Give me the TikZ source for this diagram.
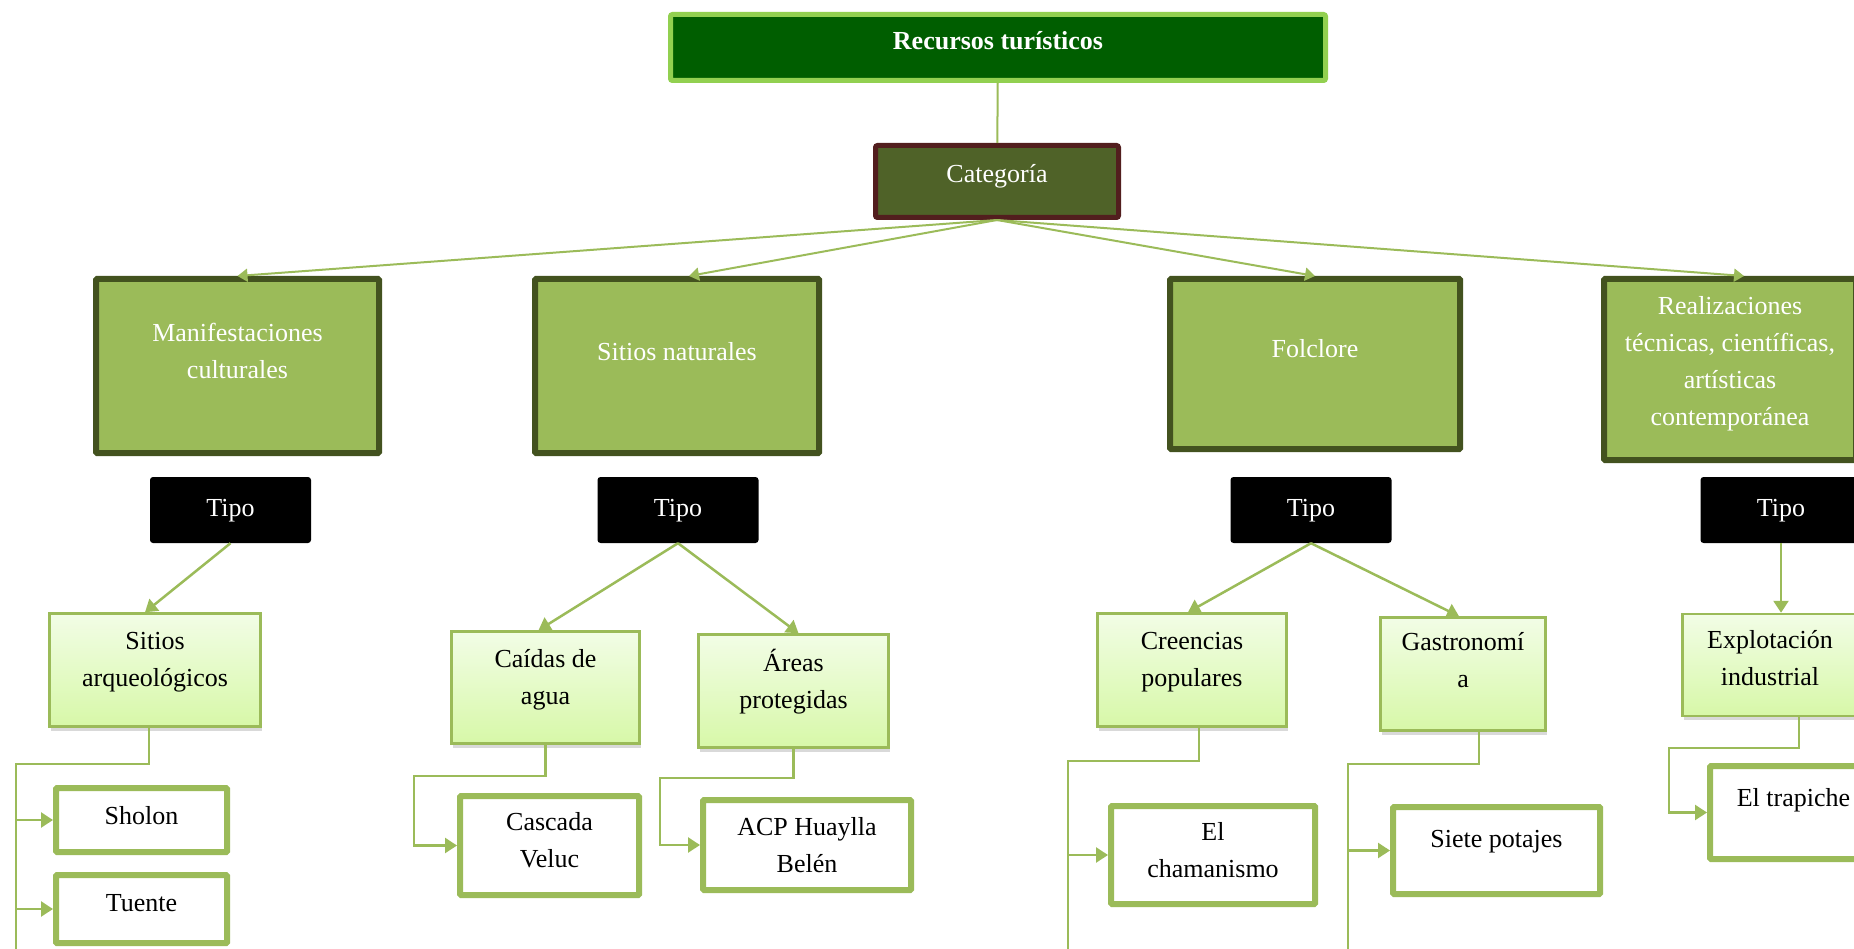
\documentclass[tikz,border=0pt]{standalone}
\usepackage{fontspec}
\setmainfont{Liberation Serif}
\usetikzlibrary{arrows.meta,shadows}

\definecolor{titlefill}{HTML}{005E00}
\definecolor{titleedge}{HTML}{92D050}
\definecolor{catgfill}{HTML}{4F6228}
\definecolor{catgedge}{HTML}{521E1E}
\definecolor{grassfill}{HTML}{9BBB59}
\definecolor{grassedge}{HTML}{43521F}
\definecolor{paletop}{HTML}{F2FDE6}
\definecolor{palebottom}{HTML}{D7F8A8}

% text of a box, lifted a bit above the middle
\newcommand{\boxtext}[2][3pt]{\raisebox{#1}[0pt][0pt]{\begin{tabular}{@{}c@{}}#2\end{tabular}}}

\begin{document}
\begin{tikzpicture}[x=1pt,y=-1pt,
    every node/.style={font=\fontsize{26}{37}\selectfont},
    titlebox/.style={draw=titleedge,fill=titlefill,line width=5pt,text=white,rounded corners=2pt,
        font=\fontsize{26}{37}\selectfont\bfseries},
    catgbox/.style={draw=catgedge,fill=catgfill,line width=5pt,text=white,rounded corners=2pt},
    mainbox/.style={draw=grassedge,fill=grassfill,line width=6pt,text=white,rounded corners=1pt},
    tipobox/.style={fill=black,text=white,rounded corners=3pt,minimum width=161pt,minimum height=66pt},
    typebox/.style={draw=grassfill,line width=2.5pt,top color=paletop,bottom color=palebottom,
        drop shadow={shadow xshift=1pt,shadow yshift=-4pt,opacity=0.3}},
    leafbox/.style={draw=grassfill,fill=white,line width=6pt,rounded corners=1pt},
    link/.style={draw=grassfill,line width=2.5pt},
    fan/.style={draw=grassfill,line width=2pt,-{Triangle[length=10pt,width=13pt]}},
    arrow/.style={link,-{Triangle[length=12pt,width=15pt]}}]
    \useasboundingbox (0,0) rectangle (1854,949);
    \clip (0,0) rectangle (1854,949);

    % top
    \node[titlebox,minimum width=655pt,minimum height=66pt] (recursos) at (998,47.5) {\boxtext[-1pt]{Recursos turísticos}};
    \node[catgbox,minimum width=243pt,minimum height=72pt] (categoria) at (997,181.5) {\boxtext[0pt]{Categoría}};

    % categories
    \node[mainbox,minimum width=283pt,minimum height=174pt] (manif) at (237.5,366) {\boxtext[7pt]{Manifestaciones\\culturales}};
    \node[mainbox,minimum width=284pt,minimum height=174pt] (naturales) at (677,366) {\boxtext[7pt]{Sitios naturales}};
    \node[mainbox,minimum width=290pt,minimum height=170pt] (folclore) at (1315,364) {\boxtext[8pt]{Folclore}};
    \node[mainbox,minimum width=252pt,minimum height=181pt] (realiz) at (1730,369.5) {\boxtext[1pt]{Realizaciones\\técnicas, científicas,\\artísticas\\contemporánea}};

    \foreach \n/\x in {tipoA/230.5,tipoB/678,tipoC/1311,tipoD/1781}
        \node[tipobox] (\n) at (\x,510) {\boxtext[-5pt]{Tipo}};

    % types
    \node[typebox,minimum width=211pt,minimum height=113pt] (arqueo) at (155,670) {\boxtext{Sitios\\arqueológicos}};
    \node[typebox,minimum width=188pt,minimum height=112pt] (caidas) at (545.5,687.5) {\boxtext{Caídas de\\agua}};
    \node[typebox,minimum width=190pt,minimum height=113pt] (areas) at (793.5,691) {\boxtext[2pt]{Áreas\\protegidas}};
    \node[typebox,minimum width=189pt,minimum height=113pt] (creencias) at (1192,670) {\boxtext{Creencias\\populares}};
    \node[typebox,minimum width=165pt,minimum height=113pt] (gastro) at (1463,674) {\boxtext[6pt]{Gastronomí\\a}};
    \node[typebox,minimum width=175pt,minimum height=102pt] (explot) at (1770,665) {\boxtext[-1pt]{Explotación\\industrial}};

    % resources
    \node[leafbox,minimum width=171pt,minimum height=64pt] (sholon) at (141.5,820) {\boxtext[-3pt]{Sholon}};
    \node[leafbox,minimum width=171pt,minimum height=68pt] (tuente) at (141.5,909) {\boxtext[-1pt]{Tuente}};
    \node[leafbox,minimum width=179pt,minimum height=99pt] (cascada) at (549.5,845.5) {\boxtext[-2pt]{Cascada\\Veluc}};
    \node[leafbox,minimum width=208pt,minimum height=90pt] (acp) at (807,845) {\boxtext[-8pt]{ACP Huaylla\\Belén}};
    \node[leafbox,minimum width=204pt,minimum height=98pt] (chaman) at (1213,855) {\boxtext[-3pt]{El\\chamanismo}};
    \node[leafbox,minimum width=207pt,minimum height=87pt] (siete) at (1496.5,850.5) {\boxtext[4pt]{Siete potajes}};
    \node[leafbox,minimum width=167pt,minimum height=93pt] (trapiche) at (1793.5,812.5) {\boxtext[7pt]{El trapiche}};

    % connectors
    \draw[link,line width=2pt] (recursos) -- (categoria);
    \draw[fan] (categoria.south) -- (manif.north);
    \draw[fan] (categoria.south) -- ([xshift=12pt]naturales.north);
    \draw[fan] (categoria.south) -- (folclore.north);
    \draw[fan] (categoria.south) -- ([xshift=14pt]realiz.north);

    \draw[arrow] (tipoA.south) -- ([xshift=-10pt]arqueo.north);
    \draw[arrow] (tipoB.south) -- ([xshift=-7pt]caidas.north);
    \draw[arrow] (tipoB.south) -- ([xshift=5pt]areas.north);
    \draw[arrow] (tipoC.south) -- ([xshift=-4pt]creencias.north);
    \draw[arrow] (tipoC.south) -- ([xshift=-4pt]gastro.north);
    \draw[arrow] (tipoD.south) -- (tipoD.south |- explot.north);

    \coordinate (arqturn) at (16,764);
    \coordinate (caidturn) at (414,776);
    \coordinate (areaturn) at (660,778);
    \coordinate (creeturn) at (1068,761);
    \coordinate (gastturn) at (1348,764);
    \coordinate (explturn) at (1669,748);

    \draw[link] ([xshift=-6pt]arqueo.south) |- (arqturn) -- ++(0,200);
    \draw[arrow] (arqturn |- sholon.west) -- (sholon.west);
    \draw[arrow] (arqturn |- tuente.west) -- (tuente.west);
    \draw[arrow] (caidas.south) |- (caidturn) |- (cascada.west);
    \draw[arrow] (areas.south) |- (areaturn) |- (acp.west);
    \draw[link] ([xshift=7pt]creencias.south) |- (creeturn) -- ++(0,200);
    \draw[arrow] (creeturn |- chaman.west) -- (chaman.west);
    \draw[link] ([xshift=16pt]gastro.south) |- (gastturn) -- ++(0,200);
    \draw[arrow] (gastturn |- siete.west) -- (siete.west);
    \draw[arrow] ([xshift=29pt]explot.south) |- (explturn) |- (trapiche.west);
\end{tikzpicture}
\end{document}
